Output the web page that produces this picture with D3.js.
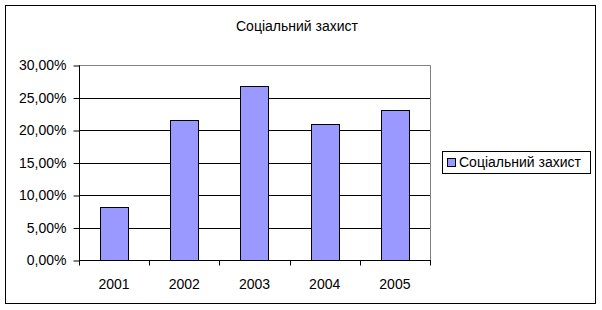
<!DOCTYPE html>
<html>
<head>
<meta charset="utf-8">
<script src="https://cdn.jsdelivr.net/npm/d3@7"></script>
<style>
  body { margin: 0; background: #fff; }
  text { font-family: Arial, "Liberation Sans", sans-serif; fill: #000; }
</style>
</head>
<body>
<div id="chart"></div>
<script>
// chart data
var years = ["2001", "2002", "2003", "2004", "2005"];
var values = [8.1, 21.5, 26.7, 20.9, 23.0];
var yTicks = [0, 5, 10, 15, 20, 25, 30];
var seriesName = "Соціальний захист";
var chartTitle = "Соціальний захист";

var width = 602;
var height = 310;
var plot = {left: 79, right: 430, top: 65, bottom: 260};
var fontSize = "14px";

var svg = d3.select("#chart")
            .append("svg")
            .attr("width", width)
            .attr("height", height);

// outer frame
svg.append("rect")
   .attr("x", 5.5)
   .attr("y", 5.5)
   .attr("width", 590)
   .attr("height", 298)
   .attr("fill", "none")
   .attr("stroke", "#000")
   .attr("stroke-width", 1);

svg.append("text")
   .attr("x", 297)
   .attr("y", 31)
   .attr("text-anchor", "middle")
   .attr("font-size", fontSize)
   .text(chartTitle);

var xScale = d3.scaleBand()
               .domain(years)
               .range([plot.left, plot.right])
               .paddingInner(0.6)
               .paddingOuter(0.3);

var yScale = d3.scaleLinear()
               .domain([0, 30])
               .range([plot.bottom, plot.top]);

// gray plot border (top and right)
svg.append("path")
   .attr("d", "M" + plot.left + "," + (plot.top + 0.5) + "H" + (plot.right + 0.5) + "V" + plot.bottom)
   .attr("fill", "none")
   .attr("stroke", "#808080");

// gridlines
svg.selectAll(".grid")
   .data(yTicks.filter(function(d){ return d > 0 && d < 30; }))
   .enter()
   .append("line")
   .attr("class", "grid")
   .attr("x1", plot.left)
   .attr("x2", plot.right)
   .attr("y1", function(d){ return Math.round(yScale(d)) + 0.5; })
   .attr("y2", function(d){ return Math.round(yScale(d)) + 0.5; })
   .attr("stroke", "#000");

// bars
svg.selectAll(".bar")
   .data(values)
   .enter()
   .append("rect")
   .attr("class", "bar")
   .attr("x", function(d, i){ return Math.round(xScale(years[i])) + 0.5; })
   .attr("y", function(d){ return Math.round(yScale(d)) + 0.5; })
   .attr("width", Math.round(xScale.bandwidth()))
   .attr("height", function(d){ return Math.round(plot.bottom - yScale(d)); })
   .attr("fill", "#9999ff")
   .attr("stroke", "#000");

// y axis
var yAxis = d3.axisLeft(yScale)
              .tickValues(yTicks)
              .tickSize(6)
              .tickPadding(7)
              .tickFormat(function(d){ return d3.format(".2f")(d).replace(".", ",") + "%"; });

var gy = svg.append("g")
            .attr("transform", "translate(" + (plot.left + 0.5) + ",0.5)")
            .call(yAxis);
gy.select(".domain").attr("d", "M0," + plot.top + "V" + plot.bottom);
gy.selectAll("line").attr("stroke", "#000");
gy.selectAll("text").attr("font-size", fontSize).attr("font-family", "Arial, 'Liberation Sans', sans-serif");

// x axis: ticks at category boundaries
var gx = svg.append("g")
            .attr("transform", "translate(0," + (plot.bottom + 0.5) + ")");
gx.append("line")
  .attr("x1", plot.left)
  .attr("x2", plot.right + 1)
  .attr("stroke", "#000");
var boundaries = years.map(function(d){ return xScale(d) - xScale.step() * 0.3; });
boundaries.push(plot.right);
gx.selectAll(".xtick")
  .data(boundaries)
  .enter()
  .append("line")
  .attr("class", "xtick")
  .attr("x1", function(d){ return Math.round(d) + 0.5; })
  .attr("x2", function(d){ return Math.round(d) + 0.5; })
  .attr("y1", 0)
  .attr("y2", 5)
  .attr("stroke", "#000");
gx.selectAll(".xlabel")
  .data(years)
  .enter()
  .append("text")
  .attr("class", "xlabel")
  .attr("x", function(d){ return xScale(d) + xScale.bandwidth() / 2; })
  .attr("y", 28)
  .attr("text-anchor", "middle")
  .attr("font-size", fontSize)
  .text(function(d){ return d; });

// legend
var legend = svg.append("g").attr("transform", "translate(442,151)");
legend.append("rect")
      .attr("x", 0.5)
      .attr("y", 0.5)
      .attr("width", 148)
      .attr("height", 22)
      .attr("fill", "#fff")
      .attr("stroke", "#000");
legend.append("rect")
      .attr("x", 5.5)
      .attr("y", 7.5)
      .attr("width", 8)
      .attr("height", 8)
      .attr("fill", "#9999ff")
      .attr("stroke", "#000");
legend.append("text")
      .attr("x", 17)
      .attr("y", 16)
      .attr("font-size", fontSize)
      .text(seriesName);
</script>
</body>
</html>
